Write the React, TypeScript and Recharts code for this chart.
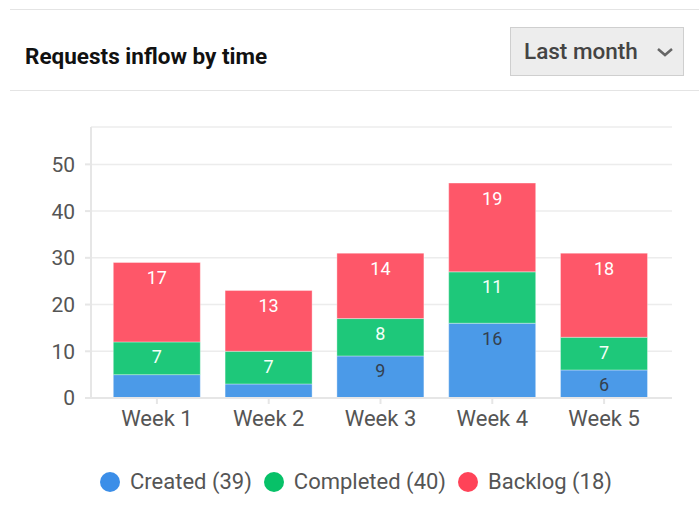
import { BarChart, Bar, CartesianGrid, XAxis, YAxis, Legend, LabelList } from "recharts";

const weeks = ["Week 1", "Week 2", "Week 3", "Week 4", "Week 5"];
const created = [5, 3, 9, 16, 6];
const completed = [7, 7, 8, 11, 7];
const backlog = [17, 13, 14, 19, 18];
const yTicks = [0, 10, 20, 30, 40, 50];

const data = weeks.map((week, i) => ({
  week,
  created: created[i],
  completed: completed[i],
  backlog: backlog[i],
}));

const sum = (arr: number[]) => arr.reduce((a, b) => a + b, 0);

const series = [
  { key: "created", name: `Created (${sum(created)})`, fill: "#4b9ae8", dot: "#3b8ee8", text: "#34404e" },
  { key: "completed", name: `Completed (${sum(completed)})`, fill: "#1ec87a", dot: "#07c168", text: "#f4fff8" },
  { key: "backlog", name: `Backlog (${backlog[backlog.length - 1]})`, fill: "#fe5769", dot: "#ff4358", text: "#ffffff" },
];

const FONT = "Roboto, 'Noto Sans', sans-serif";

// value label at the top of each stacked segment; tiny segments get none
const segLabel = (color: string) => (props: any) => {
  const { x, y, width, value } = props;
  if (value < 6) return null;
  return (
    <text
      x={x + width / 2}
      y={y + 15}
      fill={color}
      fontSize={18}
      fontFamily={FONT}
      textAnchor="middle"
      dominantBaseline="central"
    >
      {value}
    </text>
  );
};

const LegendRow = () => (
  <div
    style={{
      display: "flex",
      justifyContent: "center",
      gap: 12,
      paddingLeft: 40,
      fontFamily: FONT,
      fontSize: 22,
      color: "#555",
      lineHeight: "24px",
    }}
  >
    {series.map((s) => (
      <div key={s.key} style={{ display: "flex", alignItems: "center", gap: 10 }}>
        <span style={{ width: 20, height: 20, borderRadius: "50%", background: s.dot, display: "inline-block" }} />
        <span>{s.name}</span>
      </div>
    ))}
  </div>
);

export default function App() {
  return (
    <div style={{ position: "absolute", left: 0, top: 0, width: 699, height: 522, background: "#fff", overflow: "hidden" }}>
      {/* header */}
      <div style={{ position: "absolute", left: 10, right: 0, top: 9, height: 0, borderTop: "1.5px solid #e4e4e4" }} />
      <div style={{ position: "absolute", left: 10, right: 0, top: 90, height: 0, borderTop: "1.5px solid #e4e4e4" }} />
      <div
        style={{
          position: "absolute",
          left: 25,
          top: 43,
          fontFamily: FONT,
          fontWeight: 700,
          fontSize: 22.5,
          color: "#111",
          whiteSpace: "nowrap",
        }}
      >
        Requests inflow by time
      </div>
      <div
        style={{
          position: "absolute",
          left: 510,
          top: 27,
          width: 172,
          height: 47,
          background: "#ededed",
          border: "1px solid #cfcfcf",
        }}
      />
      <div
        style={{
          position: "absolute",
          left: 524,
          top: 38,
          fontFamily: FONT,
          fontWeight: 500,
          fontSize: 22.5,
          color: "#444",
          whiteSpace: "nowrap",
        }}
      >
        Last month
      </div>
      <svg width="20" height="10" style={{ position: "absolute", left: 656, top: 47 }}>
        <polyline points="2,2 9,8 16,2" fill="none" stroke="#666" strokeWidth="2.5" />
      </svg>

      <div style={{ position: "absolute", left: 0, top: 0 }}>
        <BarChart
          width={699}
          height={522}
          data={data}
          margin={{ top: 127, right: 27, left: 0, bottom: 70 }}
          barCategoryGap="11%"
        >
          <CartesianGrid vertical={false} stroke="#ececec" strokeWidth={1.5} />
          <XAxis
            dataKey="week"
            padding={{ left: 10, right: 12 }}
            height={30}
            stroke="#e6e6e6"
            strokeWidth={2}
            tickSize={6}
            tick={{ fill: "#555", fontSize: 22, fontFamily: FONT }}
            tickMargin={6}
          />
          <YAxis
            width={91}
            domain={[0, 58]}
            ticks={yTicks}
            stroke="#e6e6e6"
            strokeWidth={2}
            tickSize={6}
            tickMargin={10}
            tick={{ fill: "#555", fontSize: 21, fontFamily: FONT }}
            interval={0}
          />
          <Legend
            verticalAlign="bottom"
            height={24}
            wrapperStyle={{ bottom: 28 }}
            content={() => <LegendRow />}
          />
          {series.map((s) => (
            <Bar
              key={s.key}
              dataKey={s.key}
              name={s.name}
              stackId="a"
              fill={s.fill}
              stroke="#ffffff"
              strokeOpacity={0.35}
              strokeWidth={1}
              isAnimationActive={false}
            >
              <LabelList dataKey={s.key} content={segLabel(s.text)} />
            </Bar>
          ))}
        </BarChart>
      </div>
    </div>
  );
}
